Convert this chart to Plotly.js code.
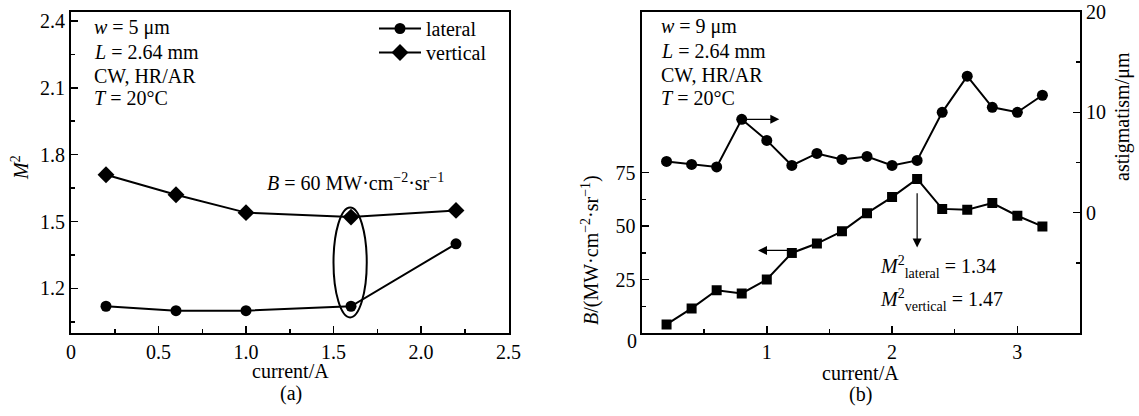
<!DOCTYPE html>
<html><head><meta charset="utf-8">
<script src="https://cdn.plot.ly/plotly-3.0.1.min.js"></script>
<style>html,body{margin:0;padding:0;background:#fff}#chart{width:1139px;height:416px}</style>
</head><body><div id="chart"></div>
<script>
// Panel (a)
const currentA = [0.2, 0.6, 1.0, 1.6, 2.2];
const m2Lateral = [1.12, 1.10, 1.10, 1.12, 1.40];
const m2Vertical = [1.71, 1.62, 1.54, 1.52, 1.55];
// Panel (b)
const currentB = [0.2, 0.4, 0.6, 0.8, 1.0, 1.2, 1.4, 1.6, 1.8, 2.0, 2.2, 2.4, 2.6, 2.8, 3.0, 3.2];
const brightness = [4, 11.5, 20, 18.5, 25, 37.4, 41.8, 47.5, 56, 63.5, 72, 58, 57.6, 60.7, 54.8, 49.8];
const astigmatism = [5.1, 4.8, 4.55, 9.3, 7.2, 4.7, 5.9, 5.3, 5.6, 4.7, 5.2, 10.0, 13.6, 10.5, 10.0, 11.7];
// Ticks
const aXTickVals = [0, 0.5, 1, 1.5, 2, 2.5];
const aXTickText = ['0', '0.5', '1.0', '1.5', '2.0', '2.5'];
const aXMinor = [0.25, 0.75, 1.25, 1.75, 2.25];
const aYTickVals = [1.2, 1.5, 1.8, 2.1, 2.4];
const aYTickText = ['1.2', '1.5', '1.8', '2.1', '2.4'];
const aYMinor = [1.05, 1.35, 1.65, 1.95, 2.25];
const bXTickVals = [1, 2, 3];
const bXTickText = ['1', '2', '3'];
const bXMinor = [0.5, 1.5, 2.5];
const bYTickVals = [25, 50, 75];
const bYTickText = ['25', '50', '75'];
const bYMinor = [12.5, 37.5, 62.5];
const astTickVals = [0, 10, 20];
const astTickText = ['0', '10', '20'];
const astMinor = [-5, 5, 15];

const W = 1139, H = 416;
const FONT = 'Liberation Serif, Times New Roman, serif';
const px = x => x / W;
const py = y => 1 - y / H;

const mk = (extra) => Object.assign({color: '#000'}, extra);
const traces = [
  {x: currentA, y: m2Lateral, xaxis: 'x', yaxis: 'y', name: 'lateral', mode: 'lines+markers', legend: 'legend',
   line: {color: '#000', width: 2}, marker: mk({symbol: 'circle', size: 11})},
  {x: currentA, y: m2Vertical, xaxis: 'x', yaxis: 'y', name: 'vertical', mode: 'lines+markers', legend: 'legend2',
   line: {color: '#000', width: 2}, marker: mk({symbol: 'diamond', size: 13})},
  {x: currentB, y: brightness, xaxis: 'x2', yaxis: 'y2', name: 'B', showlegend: false, mode: 'lines+markers',
   line: {color: '#000', width: 2}, marker: mk({symbol: 'square', size: 10})},
  {x: currentB, y: astigmatism, xaxis: 'x2', yaxis: 'y3', name: 'astigmatism', showlegend: false, mode: 'lines+markers',
   line: {color: '#000', width: 2}, marker: mk({symbol: 'circle', size: 11})}
];

const axBase = {showline: true, linecolor: '#000', linewidth: 2, ticks: 'inside', ticklen: 7, tickwidth: 1.5,
  tickcolor: '#000', showgrid: false, zeroline: false, tickmode: 'array',
  tickfont: {family: FONT, size: 20, color: '#000'}};
const minor = vals => ({tickvals: vals, ticks: 'inside', ticklen: 4, tickwidth: 1.5, tickcolor: '#000', showgrid: false});
const yDom = [py(333), py(12)];
const legBase = (top) => ({x: px(374), y: py(top), xanchor: 'left', yanchor: 'top', bgcolor: 'rgba(0,0,0,0)',
    font: {family: FONT, size: 20, color: '#000'}, itemwidth: 42});

const layout = {
  width: W, height: H, margin: {l: 0, r: 0, t: 0, b: 0},
  paper_bgcolor: '#fff', plot_bgcolor: '#fff',
  font: {family: FONT, size: 20, color: '#000'},
  showlegend: true,
  legend: legBase(9),
  legend2: legBase(33),
  xaxis: Object.assign({}, axBase, {domain: [px(71), px(508.5)], range: [0, 2.5], anchor: 'y', mirror: true,
    tickvals: aXTickVals, ticktext: aXTickText, minor: minor(aXMinor)}),
  yaxis: Object.assign({}, axBase, {domain: yDom, range: [1.0, 2.44], anchor: 'x', mirror: true,
    tickvals: aYTickVals, ticktext: aYTickText, minor: minor(aYMinor)}),
  xaxis2: Object.assign({}, axBase, {domain: [px(641.5), px(1080)], range: [0, 3.5], anchor: 'y2', mirror: true,
    tickvals: bXTickVals, ticktext: bXTickText, minor: minor(bXMinor)}),
  yaxis2: Object.assign({}, axBase, {domain: yDom, range: [0, 150], anchor: 'x2',
    tickvals: bYTickVals, ticktext: bYTickText, minor: minor(bYMinor)}),
  yaxis3: Object.assign({}, axBase, {range: [-12, 20], anchor: 'x2', overlaying: 'y2', side: 'right',
    tickvals: astTickVals, ticktext: astTickText, minor: minor(astMinor)}),
  shapes: [
    {type: 'circle', xref: 'x', yref: 'y', x0: 1.5, x1: 1.69, y0: 1.07, y1: 1.563,
     line: {color: '#000', width: 2}}
  ],
  annotations: []
};

const A = layout.annotations;
const txt = (x, y, text, opts) => A.push(Object.assign({xref: 'paper', yref: 'paper', x: px(x), y: py(y),
  text: text, showarrow: false, xanchor: 'left', yanchor: 'middle',
  font: {family: FONT, size: 20, color: '#000'}}, opts || {}));

// Panel (a) text block
txt(92, 28, '<i>w</i> = 5 μm');
txt(92, 52, '<i>L</i> = 2.64 mm');
txt(92, 76, 'CW, HR/AR');
txt(92, 98, '<i>T</i> = 20°C');
txt(355, 182, '<i>B</i> = 60 MW·cm<sup>−2</sup>·sr<sup>−1</sup>', {xanchor: 'center'});
// Panel (b) text block
txt(659, 27, '<i>w</i> = 9 μm');
txt(659, 51, '<i>L</i> = 2.64 mm');
txt(659, 75, 'CW, HR/AR');
txt(659, 98, '<i>T</i> = 20°C');
txt(878, 267, '<i>M</i><sup>2</sup><sub>lateral</sub> = 1.34');
txt(878, 300, '<i>M</i><sup>2</sup><sub>vertical</sub> = 1.47');
// "0" of left axis in panel (b)
txt(632, 341, '0', {xanchor: 'center'});
// Axis titles
txt(290, 371, 'current/A', {xanchor: 'center'});
txt(291, 393, '(a)', {xanchor: 'center'});
txt(860, 373, 'current/A', {xanchor: 'center'});
txt(860, 394, '(b)', {xanchor: 'center'});
txt(20, 168, '<i>M</i><sup>2</sup>', {xanchor: 'center', textangle: -90});
txt(590, 250, '<i>B</i>/(MW·cm<sup>−2</sup>·sr<sup>−1</sup>)', {xanchor: 'center', textangle: -90});
txt(1122, 117, 'astigmatism/μm', {xanchor: 'center', textangle: -90});

// Arrows
const arrow = (xr, yr, x, y, ax, ay) => A.push({xref: xr, yref: yr, axref: xr, ayref: yr, x: x, y: y, ax: ax, ay: ay,
  text: '', showarrow: true, arrowhead: 2, arrowsize: 1.5, arrowwidth: 1.2, arrowcolor: '#000', standoff: 0, startstandoff: 0});
arrow('x2', 'y3', 1.1, 9.3, 0.8, 9.3);
arrow('x2', 'y2', 0.93, 38.6, 1.2, 38.6);
arrow('x2', 'y2', 2.2, 40, 2.2, 66);

Plotly.newPlot('chart', traces, layout, {staticPlot: true, displayModeBar: false});
</script>
</body></html>
